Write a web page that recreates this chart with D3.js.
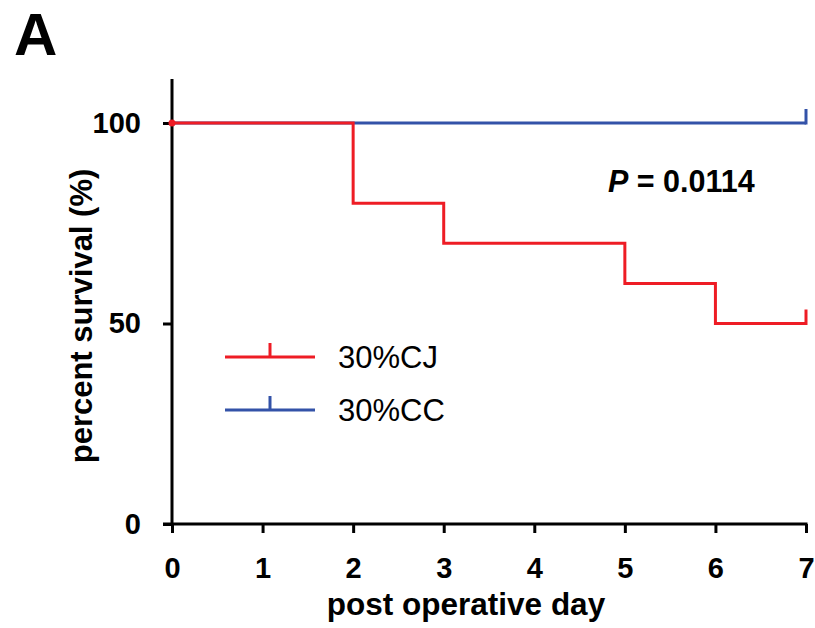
<!DOCTYPE html>
<html>
<head>
<meta charset="utf-8">
<script src="https://cdn.jsdelivr.net/npm/d3@7"></script>
<style>
  body { margin: 0; background: #fff; }
  text { font-family: Arial, "Liberation Sans", sans-serif; }
</style>
</head>
<body>
<div id="chart"></div>
<script>
// survival data (step points)
var cjDays = [0, 2, 3, 5, 6, 7];
var cjSurvival = [100, 80, 70, 60, 50, 50];
var ccDays = [0, 7];
var ccSurvival = [100, 100];
var xTicks = [0, 1, 2, 3, 4, 5, 6, 7];
var yTicks = [0, 50, 100];
var seriesNames = ["30%CJ", "30%CC"];
var seriesColors = ["#ee1c25", "#3352a8"];

var margin = {top: 123, right: 9, bottom: 104, left: 172},
    width = 815 - margin.left - margin.right,
    height = 628 - margin.top - margin.bottom;

var x = d3.scaleLinear().domain([0, 7]).range([0, width]);
var y = d3.scaleLinear().domain([0, 100]).range([height, 0]);

var svg = d3.select("#chart")
  .append("svg")
    .attr("width", 815)
    .attr("height", 628);

var g = svg.append("g")
    .attr("transform", "translate(" + margin.left + "," + margin.top + ")");

// panel letter
svg.append("text")
    .attr("x", 14)
    .attr("y", 55)
    .attr("font-size", 60)
    .attr("font-weight", "bold")
    .text("A");

// axes
var xAxis = g.append("g")
    .attr("transform", "translate(0," + height + ")")
    .call(d3.axisBottom(x).tickValues(xTicks).tickSize(9).tickPadding(24).tickFormat(d3.format("d")));

var yAxis = g.append("g")
    .call(d3.axisLeft(y).tickValues(yTicks).tickSize(9).tickPadding(22));

[xAxis, yAxis].forEach(function(a) {
  a.select(".domain").remove();
  a.selectAll("line").attr("stroke", "#000").attr("stroke-width", 3);
  a.selectAll("text")
    .attr("font-size", 29)
    .attr("font-weight", "bold")
    .attr("fill", "#000")
    .style("font-family", "Arial, 'Liberation Sans', sans-serif");
});

// axis lines
g.append("line")
    .attr("x1", 0).attr("x2", 0)
    .attr("y1", -44).attr("y2", height + 1.5)
    .attr("stroke", "#000").attr("stroke-width", 3);
g.append("line")
    .attr("x1", -9).attr("x2", width + 1.5)
    .attr("y1", height).attr("y2", height)
    .attr("stroke", "#000").attr("stroke-width", 3);

// axis titles
svg.append("text")
    .attr("x", 466)
    .attr("y", 615)
    .attr("text-anchor", "middle")
    .attr("font-size", 31.5)
    .attr("font-weight", "bold")
    .text("post operative day");

svg.append("text")
    .attr("transform", "translate(92,316) rotate(-90)")
    .attr("text-anchor", "middle")
    .attr("font-size", 31)
    .attr("font-weight", "bold")
    .text("percent survival (%)");

var line = d3.line()
    .x(function(d) { return x(d[0]); })
    .y(function(d) { return y(d[1]); })
    .curve(d3.curveStepAfter);

// 30%CC (blue) drawn first
g.append("path")
    .datum(d3.zip(ccDays, ccSurvival))
    .attr("fill", "none")
    .attr("stroke", seriesColors[1])
    .attr("stroke-width", 3)
    .attr("d", line);

g.append("line")
    .attr("x1", x(7)).attr("x2", x(7))
    .attr("y1", y(100) + 1.5).attr("y2", y(100) - 14)
    .attr("stroke", seriesColors[1]).attr("stroke-width", 3);

// 30%CJ (red)
g.append("path")
    .datum(d3.zip(cjDays, cjSurvival))
    .attr("fill", "none")
    .attr("stroke", seriesColors[0])
    .attr("stroke-width", 3)
    .attr("d", line);

g.append("line")
    .attr("x1", x(7)).attr("x2", x(7))
    .attr("y1", y(50) + 1.5).attr("y2", y(50) - 14)
    .attr("stroke", seriesColors[0]).attr("stroke-width", 3);

g.append("circle")
    .attr("cx", x(0)).attr("cy", y(100))
    .attr("r", 3.5)
    .attr("fill", seriesColors[0]);

// p value
var pText = svg.append("text")
    .attr("x", 608)
    .attr("y", 192)
    .attr("font-size", 30.5)
    .attr("font-weight", "bold");
pText.append("tspan").attr("font-style", "italic").text("P");
pText.append("tspan").text(" = 0.0114");

// legend
var legend = svg.append("g");
seriesNames.forEach(function(name, i) {
  var ly = 357 + i * 53;
  legend.append("line")
      .attr("x1", 225).attr("x2", 315)
      .attr("y1", ly).attr("y2", ly)
      .attr("stroke", seriesColors[i]).attr("stroke-width", 3);
  legend.append("line")
      .attr("x1", 270).attr("x2", 270)
      .attr("y1", ly).attr("y2", ly - 14)
      .attr("stroke", seriesColors[i]).attr("stroke-width", 3);
  legend.append("text")
      .attr("x", 338)
      .attr("y", ly + 11)
      .attr("font-size", 31)
      .text(name);
});
</script>
</body>
</html>
